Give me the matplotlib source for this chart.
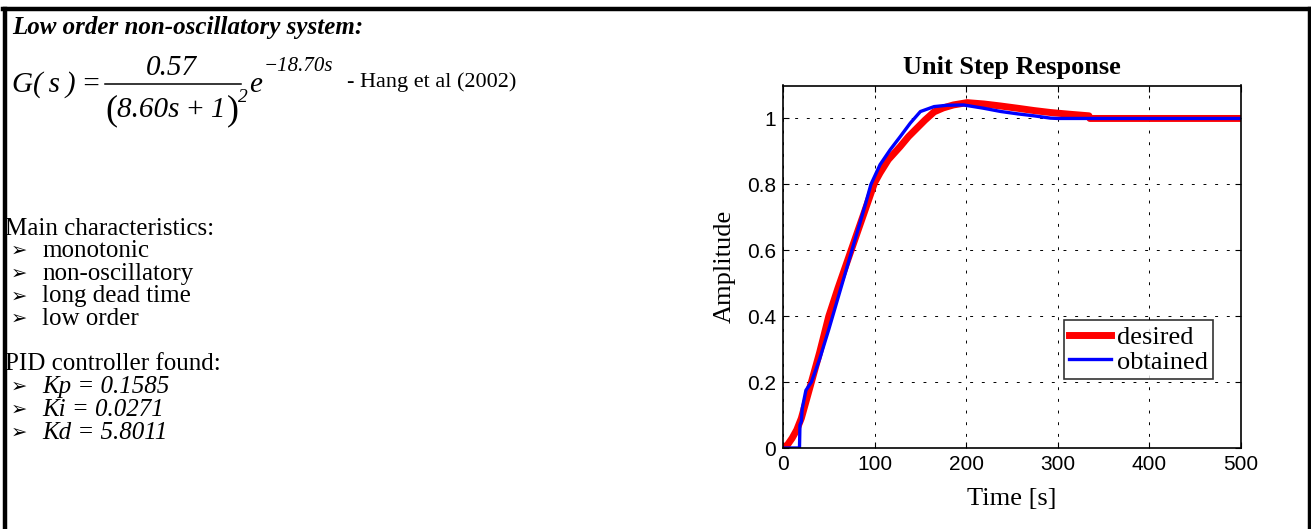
import matplotlib
matplotlib.use("Agg")
import matplotlib.pyplot as plt
from matplotlib.lines import Line2D

# ---- data ----
t_desired = [0, 5, 10, 15, 20, 25, 30, 40, 50, 60, 70, 80, 90, 100, 106, 115, 128, 137, 146,
             155, 165, 175, 186, 201, 219, 237, 256, 274, 292, 312, 334, 335, 500]
y_desired = [0, 0.01, 0.03, 0.055, 0.09, 0.14, 0.19, 0.29, 0.40, 0.485, 0.565, 0.645, 0.725,
             0.805, 0.835, 0.875, 0.915, 0.945, 0.97, 0.995, 1.02, 1.032, 1.041, 1.048, 1.044,
             1.038, 1.031, 1.024, 1.018, 1.013, 1.008, 1.0, 1.0]

t_obtained = [0, 18, 18.5, 20, 21, 25, 31, 40, 50, 60, 70, 80, 90, 96, 106, 117, 128, 139, 150,
              165, 179, 197, 219, 238, 256, 274, 292, 300, 500]
y_obtained = [0, 0, 0.07, 0.08, 0.12, 0.175, 0.2, 0.27, 0.36, 0.455, 0.55, 0.645, 0.74, 0.8,
              0.86, 0.905, 0.945, 0.986, 1.021, 1.036, 1.04, 1.041, 1.031, 1.021, 1.014, 1.008,
              1.001, 1.0, 1.0]

x_ticks = [0, 100, 200, 300, 400, 500]
y_ticks = [0, 0.2, 0.4, 0.6, 0.8, 1.0]
y_tick_labels = ["0", "0.2", "0.4", "0.6", "0.8", "1"]

characteristics = ["monotonic", "non-oscillatory", "long dead time", "low order"]
pid_lines = ["Kp = 0.1585", "Ki = 0.0271", "Kd = 5.8011"]

# ---- figure ----
W, H = 1311, 529
fig = plt.figure(figsize=(W / 100, H / 100), dpi=100)
renderer = fig.canvas.get_renderer()

serif = ['Liberation Serif', 'DejaVu Serif']
bullet_fam = ['DejaVu Sans']

def px(x, y):
    return x / W, 1 - y / H

def txt(x, y, s, **kw):
    kw.setdefault('family', serif)
    kw.setdefault('va', 'baseline')
    kw.setdefault('ha', 'left')
    return fig.text(*px(x, y), s, **kw)

def width(t):
    return t.get_window_extent(renderer).width

# frame
for (x0, y0, x1, y1) in [(5, 9, 5, H), (3, 9, 1310, 9), (1309.5, 9, 1309.5, H)]:
    fig.add_artist(Line2D([x0 / W, x1 / W], [1 - y0 / H, 1 - y1 / H], color='black',
                          lw=3.2, solid_capstyle='projecting'))

# left texts
txt(12, 34, "Low order non-oscillatory system:", fontsize=18, fontweight='bold', style='italic')

# equation, laid out piece by piece
S = 21
base = 92
t = txt(12, base, "G(\u2009s\u2009)\u2009=", fontsize=S, style='italic')
x = 12 + width(t) + 4
x_frac = x
t = txt(x, base + 27, "(", fontsize=S + 5)
x += width(t)
t = txt(x, base + 25, "8.60s\u2009+\u20091", fontsize=S, style='italic')
x += width(t) + 1
t = txt(x, base + 27, ")", fontsize=S + 5)
x += width(t)
x_bar_end = x
t = txt(x - 1, base + 10, "2", fontsize=14, style='italic')
x += width(t) + 1
fig.add_artist(Line2D([x_frac / W, (x_bar_end + 2) / W], [1 - (base - 8) / H, 1 - (base - 8) / H],
                      color='black', lw=1.1))
txt((x_frac + x_bar_end) / 2, base - 17, "0.57", fontsize=S, style='italic', ha='center')
t = txt(x, base, "e", fontsize=S, style='italic')
x += width(t) + 1
t = txt(x, base - 21, "\u221218.70s", fontsize=15, style='italic')
x += width(t)
txt(max(347, x + 12), base - 5, "- Hang et al (2002)", fontsize=16)

txt(5, 235, "Main characteristics:", fontsize=18)
for i, s in enumerate(characteristics):
    y = 257 + i * 22.7
    txt(11, y - 1, "\u27a2", family=bullet_fam, fontsize=14)
    txt(42, y, s, fontsize=18)

txt(5, 370, "PID controller found:", fontsize=18)
for i, s in enumerate(pid_lines):
    y = 393 + i * 23
    txt(11, y - 1, "\u27a2", family=bullet_fam, fontsize=14)
    txt(42, y, s, fontsize=18, style='italic')

# axes
ax_left, ax_right, ax_top, ax_bottom = 783, 1241, 85.5, 448
ax = fig.add_axes([ax_left / W, 1 - ax_bottom / H, (ax_right - ax_left) / W,
                   (ax_bottom - ax_top) / H])
ax.plot(t_desired, y_desired, color='#ff0000', lw=5.0, label='desired')
ax.plot(t_obtained, y_obtained, color='#0000ff', lw=2.4, label='obtained')
ax.set_xlim(0, 500)
ax.set_ylim(0, 1.1)
ax.set_xticks(x_ticks)
ax.set_yticks(y_ticks)
ax.set_yticklabels(y_tick_labels)
ax.tick_params(direction='in', top=True, right=True, labelsize=15, length=4, width=0.8,
               pad=5)
for lab in ax.get_xticklabels() + ax.get_yticklabels():
    lab.set_family(['Liberation Sans', 'DejaVu Sans'])
ax.grid(True, color='black', linestyle=(0, (3, 9)), lw=0.7)
for sp in ax.spines.values():
    sp.set_linewidth(1.2)
ax.set_title("Unit Step Response", family=serif, fontsize=19, fontweight='bold', pad=8)
ax.set_xlabel("Time [s]", family=serif, fontsize=19, labelpad=10)
ax.set_ylabel("Amplitude", family=serif, fontsize=19, labelpad=8)

leg = ax.legend(loc='lower right', bbox_to_anchor=((1213 - ax_left) / (ax_right - ax_left),
                (ax_bottom - 379) / (ax_bottom - ax_top)),
                prop={'family': serif, 'size': 19}, frameon=True, fancybox=False,
                edgecolor='black', handlelength=1.6, handletextpad=0.2, borderpad=0.2,
                labelspacing=0.05, borderaxespad=0)
leg.get_frame().set_linewidth(1.2)

fig.savefig("out.png", dpi=100)
